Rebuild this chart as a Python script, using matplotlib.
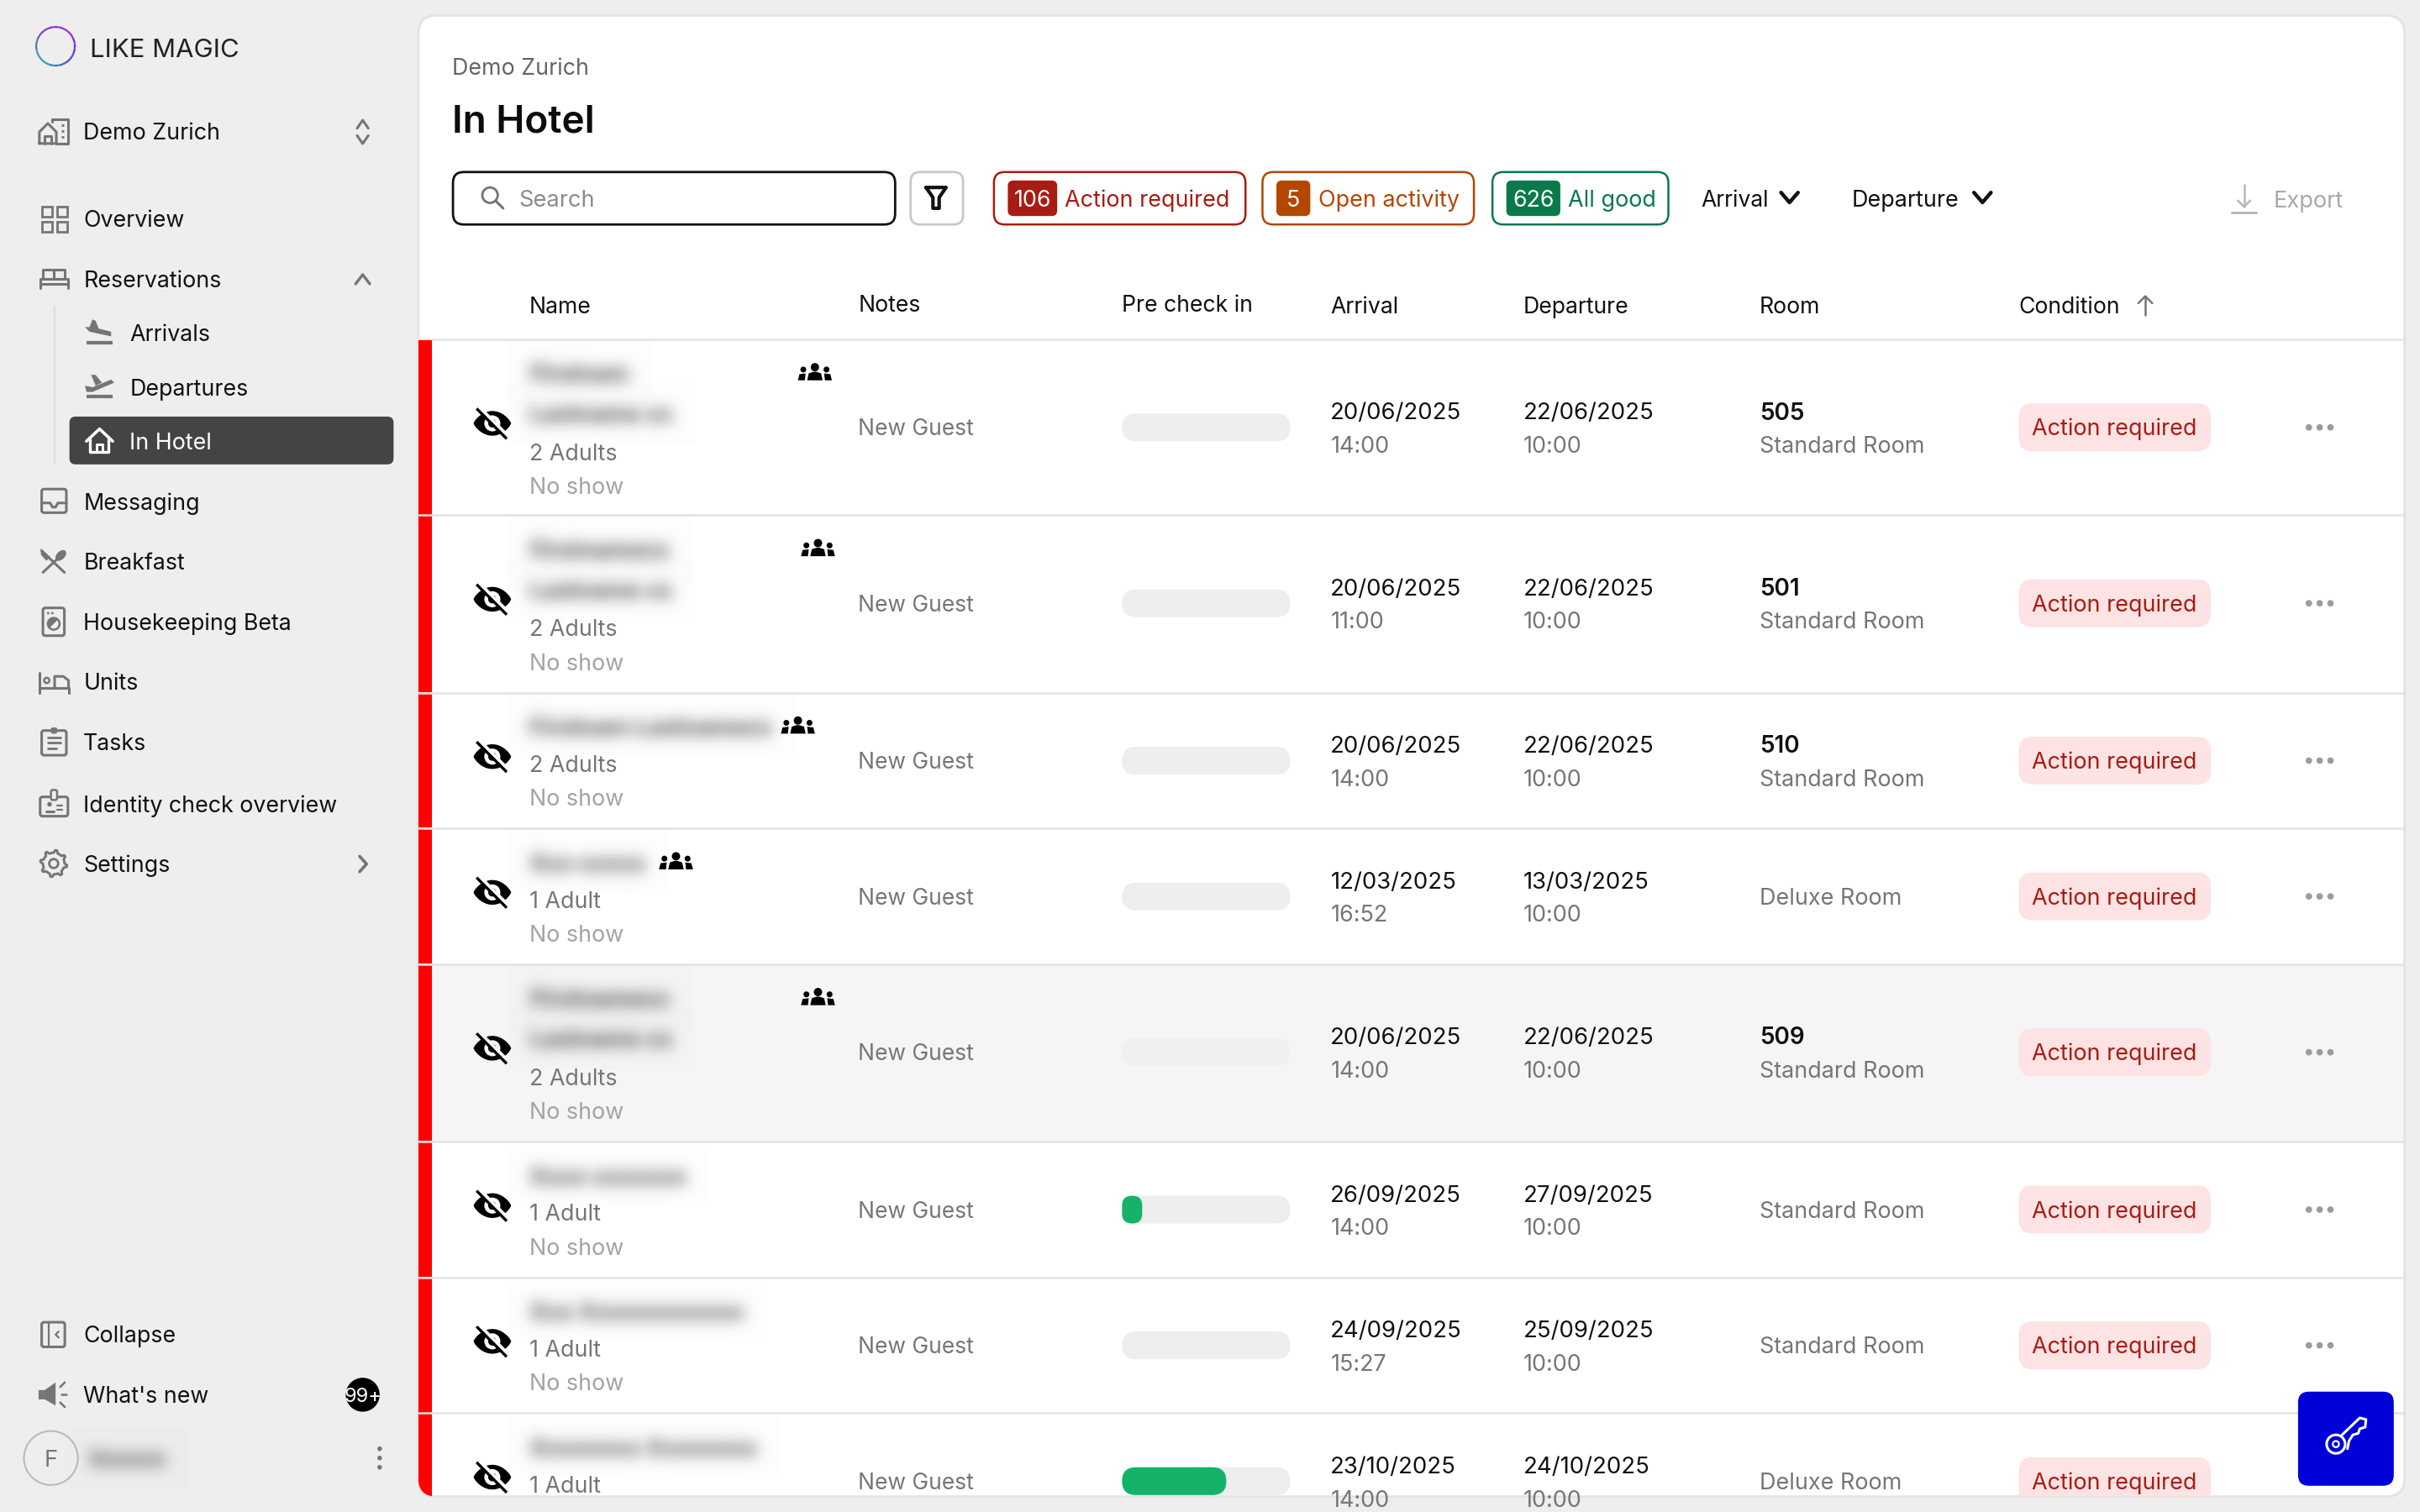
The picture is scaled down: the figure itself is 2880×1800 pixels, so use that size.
import numpy as np
import matplotlib
matplotlib.use("Agg")
import matplotlib.pyplot as plt
from matplotlib.patches import FancyBboxPatch, Circle, Ellipse, Polygon, Rectangle, Wedge
from matplotlib.collections import LineCollection

# ---- data ----
nav_labels = ["Overview", "Reservations", "Messaging", "Breakfast", "Housekeeping Beta",
              "Units", "Tasks", "Identity check overview", "Settings"]
sub_labels = ["Arrivals", "Departures", "In Hotel"]
status_counts = ["106", "5", "626"]
status_labels = ["Action required", "Open activity", "All good"]
columns = ["Name", "Notes", "Pre check in", "Arrival", "Departure", "Room", "Condition"]
# guest names are redacted in the source: neutral placeholders, drawn blurred
name_line1 = ["Firstnam", "Firstnamexx", "Firstnam Lastnamexx", "Xxx xxxxx", "Firstnamexx", "Xxxx xxxxxxx", "Xxx Xxxxxxxxxxxx", "Xxxxxxxx Xxxxxxxx"]
name_line2 = ["Lastname xx", "Lastname xx", "", "", "Lastname xx", "", "", ""]
party = ["2 Adults", "2 Adults", "2 Adults", "1 Adult", "2 Adults", "1 Adult", "1 Adult", "1 Adult"]
no_show = ["No show"] * 7 + [""]
arrival_dates = ["20/06/2025", "20/06/2025", "20/06/2025", "12/03/2025", "20/06/2025", "26/09/2025", "24/09/2025", "23/10/2025"]
arrival_times = ["14:00", "11:00", "14:00", "16:52", "14:00", "14:00", "15:27", "14:00"]
departure_dates = ["22/06/2025", "22/06/2025", "22/06/2025", "13/03/2025", "22/06/2025", "27/09/2025", "25/09/2025", "24/10/2025"]
departure_times = ["10:00"] * 8
room_numbers = ["505", "501", "510", "", "509", "", "", ""]
room_types = ["Standard Room", "Standard Room", "Standard Room", "Deluxe Room", "Standard Room", "Standard Room", "Standard Room", "Deluxe Room"]
precheck_pct = [0, 0, 0, 0, 0, 12, 0, 62]
group_icon = [True, True, True, True, True, False, False, False]

# ---- layout (reference scaled to 1568 x 980 units) ----
row_tops = [220, 334, 449, 537, 625, 740, 828, 916, 1030]
row_centers = [277, 391, 493, 581, 682, 784, 872, 960]
group_x = [528, 530, 517, 438, 530, 0, 0, 0]
col_x = [343, 556, 727, 862, 987, 1140, 1308]

FONT = "Inter"
plt.rcParams["font.family"] = [FONT, "DejaVu Sans"]
K = 0.661  # unit -> pt
NAV, BODY = 14.6, 14.65
BLACK, GREY, LGREY, ICON = "#111111", "#767676", "#a3a3a3", "#757575"
RED, ORANGE, GREEN = "#a81c14", "#b34700", "#0a7a4b"
LINE = "#e2e2e2"

fig = plt.figure(figsize=(14.4, 9), dpi=200, facecolor="#eeeeee")
ax = fig.add_axes([0, 0, 1, 1])
ax.set_xlim(0, 1568)
ax.set_ylim(980, 0)
ax.axis("off")


def rr(x0, y0, x1, y1, r, fc="none", ec="none", lw=0, z=2, clip=False):
    p = FancyBboxPatch((x0, y0), x1 - x0, y1 - y0, boxstyle=f"round,pad=0,rounding_size={r}",
                       fc=fc, ec=ec, lw=lw, zorder=z)
    ax.add_patch(p)
    if clip:
        p.set_clip_path(card)
    return p


def T(x, y, s, size=BODY, color=BLACK, weight="normal", ha="left", clip=False, z=5):
    t = ax.text(x, y + size * 0.36, s, fontsize=size * K, color=color, fontweight=weight,
                ha=ha, va="baseline", zorder=z)
    if clip:
        t.set_clip_on(True)
        t.set_clip_path(card)
    return t


def L(xs, ys, color=ICON, lw=1.0, z=4, clip=False, cap="round"):
    l, = ax.plot(xs, ys, color=color, lw=lw, zorder=z, solid_capstyle=cap, solid_joinstyle="round")
    if clip:
        l.set_clip_path(card)
    return l


def chev(cx, cy, w, h, up=False, color=ICON, lw=1.1, clip=False):
    s = -1 if up else 1
    L([cx - w, cx, cx + w], [cy - s * h, cy + s * h, cy - s * h], color, lw, clip=clip)


def P(pts, fc=ICON, z=4, clip=False):
    p = Polygon(pts, fc=fc, ec="none", zorder=z)
    ax.add_patch(p)
    if clip:
        p.set_clip_path(card)
    return p


def C(x, y, r, fc=ICON, ec="none", lw=0, z=4, clip=False):
    c = Circle((x, y), r, fc=fc, ec=ec, lw=lw, zorder=z)
    ax.add_patch(c)
    if clip:
        c.set_clip_path(card)
    return c


def blur_filter(sigma):
    rad = int(3 * sigma)
    kern = np.exp(-0.5 * (np.arange(-rad, rad + 1) / sigma) ** 2)
    kern /= kern.sum()

    def f(im, dpi):
        a = np.pad(im[..., 3], rad)
        a = np.apply_along_axis(lambda v: np.convolve(v, kern, mode="same"), 0, a)
        a = np.apply_along_axis(lambda v: np.convolve(v, kern, mode="same"), 1, a)
        out = np.zeros(a.shape + (4,))
        out[..., :3] = 0.25
        out[..., 3] = np.clip(a, 0, 1) + 0.008
        return out, -rad, -rad
    return f


# ---- card ----
rr(271, 10, 1558, 970, 12, fc="white", ec=LINE, lw=1.0, z=1)
card = FancyBboxPatch((271, 10), 1287, 960, boxstyle="round,pad=0,rounding_size=12",
                      fc="none", ec="none", transform=ax.transData)
ax.add_patch(card)

# ---- logo ----
theta = np.linspace(0, 2 * np.pi, 120)
pts = np.c_[36 + 12.5 * np.cos(theta), 30 + 12.5 * np.sin(theta)]
segs = np.stack([pts[:-1], pts[1:]], axis=1)
cols = []
for th in theta[:-1]:
    d = (np.cos(th - np.pi * 1.6) + 1) / 2
    e = (np.cos(th - np.pi * 0.9) + 1) / 2
    cols.append((0.12 * (1 - d) + 0.55 * d, 0.1 + 0.55 * e * (1 - d), 0.85 - 0.2 * e))
ax.add_collection(LineCollection(segs, colors=cols, linewidths=0.8, zorder=4))
T(58, 31, "LIKE MAGIC", 16.9, "#222222")

# ---- sidebar text ----
T(54, 85, "Demo Zurich", NAV)
chev(235, 80.5, 3.6, 2.6, up=True); chev(235, 90.5, 3.6, 2.6)
nav_y = [142, 181, 325, 364, 403, 442, 481, 521, 560]
for lab, y in zip(nav_labels, nav_y):
    T(54, y, lab, NAV)
chev(235, 181, 4.6, 3, up=True, lw=1.2)
L([233, 237.5, 233], [555, 560, 565], ICON, 1.3)
L([35.5, 35.5], [198, 300], "#dddddd", 0.7)
rr(45, 270, 255, 301, 4, fc="#444444", z=3)
for lab, y, c in zip(sub_labels, [216, 251, 286], ["#111111", "#111111", "white"]):
    T(84, y, lab, NAV, c)
T(54, 865, "Collapse", NAV)
T(54, 904, "What's new", NAV)
C(235, 904, 11, fc="black")
T(235, 904, "99+", 13, "white", ha="center")
C(33, 945, 17.5, fc="none", ec="#bbbbbb", lw=0.75)
T(33, 945, "F", 15, GREY, ha="center")
T(57, 945, "Xxxxxx", 14, "#333333", weight="bold").set_agg_filter(blur_filter(9))
for dy in (-6, 0, 6):
    C(246, 945 + dy, 1.5)

# ---- sidebar icons ----
lw = 1.1
# building
L([25.5, 25.5, 31, 36.5, 36.5, 25.5], [93, 85.5, 80, 85.5, 93, 93], ICON, lw)
L([29, 29, 33, 33], [93, 88, 88, 93], ICON, lw)
L([33.5, 33.5, 37, 44.2, 44.2, 36.5], [79, 77.5, 77.5, 77.5, 93, 93], ICON, lw)
for y in (81.2, 85, 88.6):
    L([39.8, 41.4], [y, y], ICON, 1.0, cap="butt")
# grid
for x, y in [(27, 134), (37, 134), (27, 144), (37, 144)]:
    ax.add_patch(Rectangle((x, y), 6.5, 6.5, fc="none", ec=ICON, lw=1.0, zorder=4))
# bed
L([26, 26, 44, 44], [187, 181, 181, 187], ICON, lw)
L([26, 44], [184, 184], ICON, lw)
L([28, 28, 42, 42], [181, 175, 175, 181], ICON, lw)
L([35, 35], [175, 181], ICON, lw)
# arrivals
L([56, 73], [222, 222], ICON, 1.5, cap="butt")
P([[60, 207], [62, 208], [64, 213], [72, 215], [72, 218], [58, 215], [55, 212], [58, 212]])
# departures
L([56, 73], [257, 257], ICON, 1.5, cap="butt")
P([[55, 250], [60, 251], [72, 246], [74, 248], [60, 254], [56, 254]])
P([[59, 243], [62, 243], [66, 248], [62, 250]])
# in hotel
L([56, 64.5, 73], [286, 278, 286], "white", 1.3)
L([58.5, 58.5, 70.5, 70.5], [285, 293, 293, 285], "white", 1.2)
L([62.5, 62.5, 66.5, 66.5], [293, 288, 288, 293], "white", 1.1)
# messaging
rr(27, 317, 43, 332.3, 1.5, ec=ICON, lw=lw, z=4)
L([27, 32.5, 34, 36, 37.5, 43], [326, 326, 328.7, 328.7, 326, 326], ICON, lw)
# breakfast
L([27, 41.7], [357, 371], ICON, 1.1)
P([[26.5, 355.5], [32.5, 361], [30, 363.5], [26.5, 359.5]])
L([27.8, 38], [371, 361.5], ICON, 1.1)
ax.add_patch(Ellipse((39.4, 360), 5.2, 8.4, angle=45, fc=ICON, ec="none", zorder=4))
# housekeeping
rr(27.8, 394, 41.7, 412, 1.5, ec=ICON, lw=lw, z=4)
C(34.8, 404.3, 3.8, fc="none", ec=ICON, lw=0.9)
ax.add_patch(Wedge((34.8, 404.3), 3.8, 135, 315, fc=ICON, ec="none", zorder=4))
C(31.2, 397.4, 0.8); C(33.9, 397.4, 0.8)
# units
L([25.5, 25.5], [436, 449], ICON, lw)
L([25.5, 44.4, 44.4], [446, 446, 449], ICON, lw)
L([35.4, 35.4, 41, 44.4, 44.4], [446, 438.4, 438.4, 441, 446], ICON, lw)
C(30.3, 441, 1.7, fc="none", ec=ICON, lw=0.9)
# tasks
rr(27, 473.5, 43, 489.5, 1.5, ec=ICON, lw=lw, z=4)
rr(33, 471.5, 37, 475.5, 1, fc=ICON, z=4)
L([31, 39.4], [477.8, 477.8], ICON, 1.0); L([31, 39.4], [481.4, 481.4], ICON, 1.0); L([31, 36.5], [485, 485], ICON, 1.0)
# identity
rr(26, 516.5, 44, 529, 1.5, ec=ICON, lw=lw, z=4)
rr(33, 512, 37, 518.5, 1.2, fc="#eeeeee", ec=ICON, lw=0.9, z=4.1)
C(32.1, 521.3, 1.5)
L([29.8, 34.6], [525.8, 525.8], ICON, 1.1)
L([37, 40.4], [522.3, 522.3], ICON, 0.8); L([37, 40.4], [524.8, 524.8], ICON, 0.8)
# settings: gear outline
gang = np.arange(0, 360, 7.5)
grad = np.array([8.7, 8.7, 7.0, 7.0, 7.0, 7.0][:6] * 8)
gx = 34.8 + grad * np.cos(np.deg2rad(gang + 7))
gy = 559.7 + grad * np.sin(np.deg2rad(gang + 7))
ax.add_patch(Polygon(np.c_[gx, gy], fc="none", ec=ICON, lw=1.05, joinstyle="round", zorder=4))
C(34.8, 559.7, 2.9, fc="none", ec=ICON, lw=1.0)
# collapse
rr(27, 857, 42, 873, 1.5, ec=ICON, lw=lw, z=4)
L([31.5, 31.5], [857, 873], ICON, 0.8)
L([38, 36, 38], [863, 865, 867], ICON, 0.8)
# what's new
P([[25, 901], [29, 901], [36, 896], [36, 911], [29, 907], [25, 907]])
L([39, 42], [899, 896], ICON, 0.9); L([39.5, 43], [904, 904], ICON, 0.9); L([39, 42], [909, 912], ICON, 0.9)

# ---- header ----
T(293, 43, "Demo Zurich", 14.6, "#666666")
T(293, 77, "In Hotel", 25.0, "#0c0c0c", weight="semibold")
rr(293.5, 111.5, 580, 145.5, 7, fc="white", ec="#111111", lw=1.0, z=3)
C(317.5, 126.5, 5, fc="none", ec=ICON, lw=1.0)
L([321, 326], [130, 135], ICON, 1.1)
T(336, 128.5, "Search", 14.8, "#8c8c8c")
rr(590, 111.5, 624, 145.5, 6, fc="white", ec="#c8c8c8", lw=1.0, z=3)
L([600, 613, 608.5, 608.5, 604.5, 604.5, 600], [121.5, 121.5, 128, 135, 135, 128, 121.5], "#111111", 1.5)

boxes = [(644, 807, 653, 685, 690, RED), (818, 955, 827, 849, 854, ORANGE), (967, 1081, 976, 1011, 1016, GREEN)]
for (x0, x1, i0, i1, tx, c), n, lab in zip(boxes, status_counts, status_labels):
    rr(x0, 111.5, x1, 145.5, 7, fc="white", ec=c, lw=0.9, z=3)
    rr(i0, 117, i1, 140, 3.5, fc=c, z=4)
    T((i0 + i1) / 2, 128.5, n, 14.6, "white", ha="center")
    T(tx, 128.5, lab, 14.7, c)
T(1102, 128.5, "Arrival", 14.4)
chev(1159.5, 128, 5.5, 3.2, color="#111111", lw=1.6)
T(1200, 128.5, "Departure", 14.7)
chev(1284.5, 128, 5.5, 3.2, color="#111111", lw=1.6)
L([1454, 1454], [120, 134], "#b8b8b8", 0.9)
L([1450, 1454, 1458], [130, 134, 130], "#b8b8b8", 0.9)
L([1446, 1462], [138, 138], "#b8b8b8", 1.1)
T(1473, 129, "Export", 14.8, "#a9a9a9")

# ---- table ----
header_y = [198, 197, 197, 198, 198, 198, 198]
for c, x, y in zip(columns, col_x, header_y):
    T(x, y, c, 14.5)
L([1390, 1390], [192, 204], ICON, 0.9)
L([1385.5, 1390, 1394.5], [196.5, 192, 196.5], ICON, 0.9)
L([271, 1558], [220, 220], LINE, 0.9, z=2, cap="butt")

name1_y = [242, 356, 471, 559, 647, 762, 850, 938]
name2_y = [268, 382, 0, 0, 673, 0, 0, 0]
party_y = [293, 407, 495, 583, 698, 786, 874, 962]
noshow_y = [315, 429, 517, 605, 720, 808, 896, 984]
eye_t = np.linspace(-1, 1, 41)
EYE_TOP = np.c_[12.2 * eye_t, -8 * (1 - eye_t ** 2) ** 0.8]
EYE_BOT = np.c_[12.2 * eye_t[::-1], 8 * (1 - eye_t[::-1] ** 2) ** 0.8]
EYE = np.r_[EYE_TOP, EYE_BOT]

for i in range(8):
    top, bot, cy = row_tops[i], row_tops[i + 1], row_centers[i]
    bg = "white"
    if i == 4:
        bg = "#f5f5f5"
        ax.add_patch(Rectangle((280, top), 1277, bot - top, fc=bg, ec="none", zorder=1.5))
    r = Rectangle((271, top + 0.5), 9, bot - top - 1, fc="#ff0000", ec="none", zorder=2)
    ax.add_patch(r); r.set_clip_path(card)
    L([271, 1558], [bot, bot], LINE, 0.9, z=2.5, cap="butt", clip=True)

    # eye-off icon
    ey = cy - 2.6
    P(EYE + [319, ey], fc="black", clip=True)
    C(319, ey, 5.2, fc=bg, clip=True)
    C(319, ey, 2.7, fc="black", z=4.05, clip=True)
    L([310.5, 329.5], [ey - 10.5, ey + 8.6], bg, 1.5, z=4.1, clip=True, cap="butt")
    L([308.8, 328.3], [ey - 9.6, ey + 10], "black", 1.2, z=4.2, clip=True, cap="butt")

    # names, blurred
    T(343, name1_y[i], name_line1[i], 15.0, "#333333", weight="bold").set_agg_filter(blur_filter(9))
    if name_line2[i]:
        T(343, name2_y[i], name_line2[i], 15.0, "#333333", weight="bold").set_agg_filter(blur_filter(9))
    if group_icon[i]:
        gx, gy = group_x[i], name1_y[i]
        for dx, rad, by in [(-7.5, 1.9, 0.5), (7.5, 1.9, 0.5), (0, 2.7, -1)]:
            C(gx + dx, gy - 3 + by, rad, fc="black")
        P([[gx - 5, gy + 4.5], [gx - 4, gy], [gx - 1, gy - 1], [gx + 1, gy - 1], [gx + 4, gy], [gx + 5, gy + 4.5]], fc="black")
        P([[gx - 11, gy + 4.5], [gx - 10, gy + 0.5], [gx - 6, gy], [gx - 6.5, gy + 4.5]], fc="black")
        P([[gx + 11, gy + 4.5], [gx + 10, gy + 0.5], [gx + 6, gy], [gx + 6.5, gy + 4.5]], fc="black")
    T(343, party_y[i], party[i], 14.65, GREY, clip=True)
    if no_show[i]:
        T(343, noshow_y[i], no_show[i], 14.65, LGREY, clip=True)
    T(556, cy, "New Guest", 14.4, GREY, clip=True)

    # pre check in bar
    bar_c = "#f0f0f0" if i == 4 else "#eeeeee"
    rr(727, cy - 9, 836, cy + 9, 9, fc=bar_c, z=3, clip=True)
    if precheck_pct[i]:
        rr(727, cy - 9, 727 + 109 * precheck_pct[i] / 100, cy + 9, 6.5 if precheck_pct[i] < 20 else 9,
           fc="#14b369", z=4, clip=True)

    d_y = cy - 10.5
    T(862, d_y, arrival_dates[i], 15.0, BLACK, clip=True)
    T(862, d_y + 21.7, arrival_times[i], 14.7, GREY, clip=True)
    T(987, d_y, departure_dates[i], 15.0, BLACK, clip=True)
    T(987, d_y + 21.7, departure_times[i], 14.7, GREY, clip=True)
    if room_numbers[i]:
        T(1140, d_y, room_numbers[i], 15.2, BLACK, weight="semibold", clip=True)
        T(1140, d_y + 21.7, room_types[i], 14.7, GREY, clip=True)
    else:
        T(1140, cy, room_types[i], 14.7, GREY, clip=True)

    rr(1308, cy - 15.5, 1432.5, cy + 15.5, 9, fc="#fde3e3", z=3, clip=True)
    T(1370, cy, "Action required", 14.7, RED, ha="center", clip=True)
    for dx in (-7, 0, 7):
        C(1503 + dx, cy, 2.1, fc="#9c9c9c", clip=True)

# ---- floating button ----
rr(1489, 902, 1551, 963, 7, fc="#0000d8", z=8)
ax.add_patch(Ellipse((1513.5, 936), 12, 12, fc="none", ec="white", lw=1.1, zorder=9))
ax.add_patch(Circle((1513.5, 936), 2, fc="none", ec="white", lw=0.8, zorder=9))
L([1517.5, 1529, 1533, 1532.5, 1529, 1528, 1524.5, 1522, 1521],
  [930, 919, 920, 925, 926, 929, 930, 934, 939], "white", 1.1, z=9)

fig.savefig("out.png", dpi=200, facecolor=fig.get_facecolor())
